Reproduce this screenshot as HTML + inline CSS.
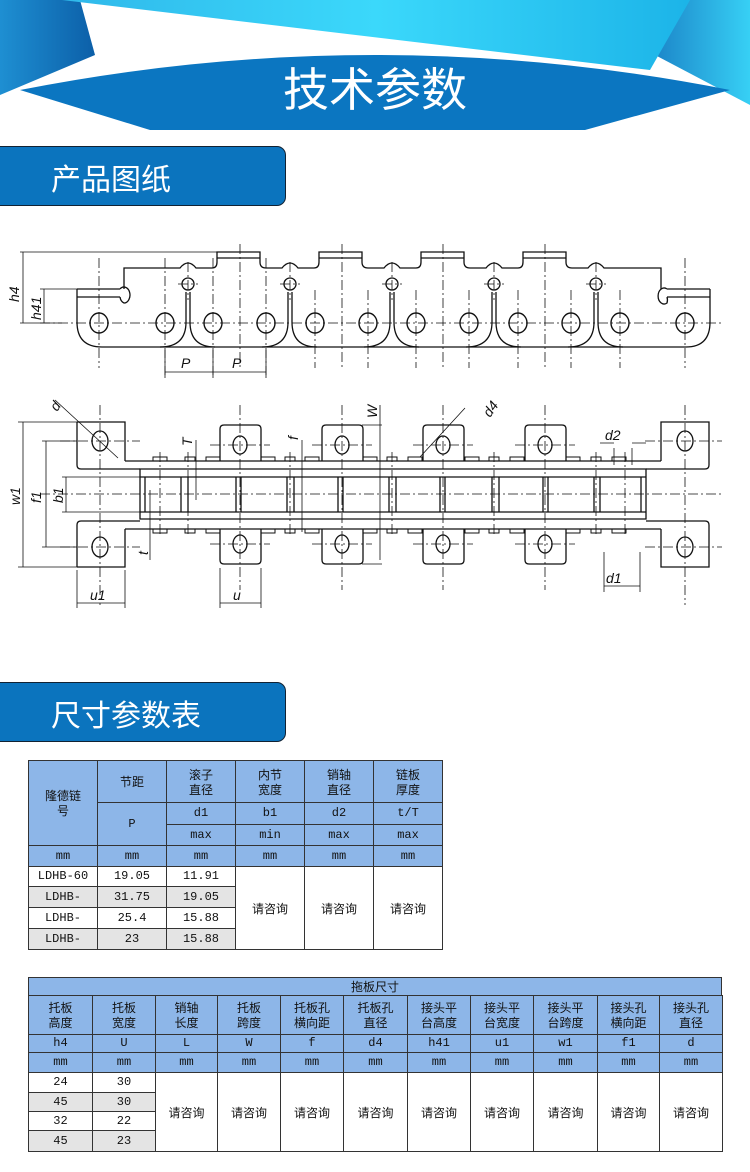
<!DOCTYPE html>
<html><head><meta charset="utf-8">
<style>
body{margin:0;width:750px;height:1172px;background:#fff;position:relative;overflow:hidden;font-family:"Liberation Sans","Noto Sans CJK SC",sans-serif}
.sec{position:absolute;left:-2px;width:288px;height:60px;background:#0b74be;border:1.5px solid #123;border-radius:0 9px 9px 0;color:#fff;font-size:30px;line-height:60px;box-sizing:border-box;padding-left:52px;font-family:"Noto Sans CJK SC",sans-serif}
.c{position:absolute;box-sizing:border-box;border:1px solid #333;display:flex;align-items:center;justify-content:center;text-align:center;font-size:12px;line-height:15px;color:#111;font-family:"Liberation Mono","Noto Sans CJK SC",monospace}
.h{background:#8db6e8}
.g{background:#e4e4e4}
</style></head><body>
<svg width="750" height="140" style="position:absolute;left:0;top:0">
<defs>
<linearGradient id="lc" x1="0" x2="1"><stop offset="0" stop-color="#2fb8ea"/><stop offset=".5" stop-color="#3bd8fb"/><stop offset="1" stop-color="#1cb4e8"/></linearGradient>
<linearGradient id="sl" x1="0" x2="1"><stop offset="0" stop-color="#1e8fd2"/><stop offset="1" stop-color="#0c5fa8"/></linearGradient>
<linearGradient id="sr" x1="0" x2="1"><stop offset="0" stop-color="#1c86c9"/><stop offset="1" stop-color="#37d0f5"/></linearGradient>
</defs>
<polygon points="0,0 80,0 95,55 0,95" fill="url(#sl)"/>
<polygon points="670,0 750,0 750,105 655,55" fill="url(#sr)"/>
<path d="M20,90 Q375,20 730,90 L585,130 L150,130 Z" fill="#0b76c1"/>
<polygon points="62,0 690,0 650,70 Q375,38 108,95 Z" fill="url(#lc)"/>
<text x="375" y="106" text-anchor="middle" fill="#fff" font-size="46" font-family="Noto Sans CJK SC,sans-serif">技术参数</text>
</svg>
<div class="sec" style="top:146px">产品图纸</div>
<div class="sec" style="top:682px">尺寸参数表</div>

<svg width="750" height="640" style="position:absolute;left:0;top:0" fill="none" stroke="#111" stroke-width="1.3" font-family="Liberation Sans,sans-serif" font-style="italic">
<path d="M77,289 L120,289 M77,297 L120,297 M120,289 A6,8 0 1 1 124,303 A6,8 0 0 1 120,297 M124,289 L124,268 L180,268 Q188,258 196,268 L212,268 Q217,268 217,262 L217,252 L260,252 L260,262 Q260,268 266,268 L282,268 Q290,258 298,268 L314,268 Q319,268 319,262 L319,252 L362,252 L362,262 Q362,268 368,268 L384,268 Q392,258 400,268 L416,268 Q421,268 421,262 L421,252 L464,252 L464,262 Q464,268 470,268 L486,268 Q494,258 502,268 L518,268 Q523,268 523,262 L523,252 L566,252 L566,262 Q566,268 572,268 L588,268 Q596,258 604,268 L661,268 L661,289"/>
<path d="M217,258 L260,258 M319,258 L362,258 M421,258 L464,258 M523,258 L566,258"/>
<path d="M667,289 L710,289 M667,297 L710,297 M667,289 A6,8 0 1 0 667,303 A6,8 0 0 0 667,297"/>
<path d="M77,289 L77,322 Q77,347 102,347 L686,347 Q710,347 710,322 L710,289"/>
<g id="lk">
<path d="M186,292 L186,322 Q186,347 160,347 M190,292 L190,322 Q190,347 215,347"/>
<circle cx="188" cy="284" r="6"/>
</g>
<use href="#lk" x="102"/><use href="#lk" x="204"/><use href="#lk" x="306"/><use href="#lk" x="408"/>
<g stroke-width="1.4">
<ellipse cx="99" cy="323" rx="9" ry="10"/><ellipse cx="165" cy="323" rx="9" ry="10"/><ellipse cx="213" cy="323" rx="9" ry="10"/><ellipse cx="266" cy="323" rx="9" ry="10"/><ellipse cx="315" cy="323" rx="9" ry="10"/><ellipse cx="368" cy="323" rx="9" ry="10"/><ellipse cx="416" cy="323" rx="9" ry="10"/><ellipse cx="469" cy="323" rx="9" ry="10"/><ellipse cx="518" cy="323" rx="9" ry="10"/><ellipse cx="571" cy="323" rx="9" ry="10"/><ellipse cx="620" cy="323" rx="9" ry="10"/><ellipse cx="685" cy="323" rx="9" ry="10"/>
</g>
<g stroke-width=".8" stroke-dasharray="10,3,2,3">
<path d="M40,323 L722,323"/>
<path d="M99,258 V368 M165,258 V375 M213,258 V375 M266,258 V375 M315,290 V368 M368,290 V368 M416,290 V368 M469,290 V368 M518,290 V368 M571,290 V368 M620,290 V368 M685,258 V368"/>
<path d="M240,244 V370 M342,244 V370 M443,244 V370 M545,244 V370 M188,262 V300 M290,262 V300 M392,262 V300 M494,262 V300 M596,262 V300"/>
<path d="M178,284 H198 M280,284 H300 M382,284 H402 M484,284 H504 M586,284 H606"/>
</g>
<g stroke-width=".8">
<path d="M20,252 H217 M40,289 H77 M20,323 H62 M23,252 V323 M44,289 V323 M165,350 V378 M213,350 V378 M266,350 V378 M165,372 H266"/>
</g>
<g fill="#111" stroke="none" font-size="14">
<text transform="translate(19,302) rotate(-90)">h4</text>
<text transform="translate(41,320) rotate(-90)">h41</text>
<text x="181" y="368">P</text><text x="232" y="368">P</text>
</g>

<path d="M77,422 H125 V461 M77,422 V465 Q77,469 81,469 H140 M125,461 H661 M661,461 V422 H709 V465 Q709,469 705,469 H646"/>
<path d="M77,567 H125 V529 M77,567 V525 Q77,521 81,521 H140 M125,529 H661 M661,529 V567 H709 V525 Q709,521 705,521 H646"/>
<path d="M140,469 V519 H646 V469 Z M140,477 H646 M140,512 H646"/>
<path d="M145,477 V512 M181,477 V512 M188,477 V512 M236,477 V512 M241,477 V512 M287,477 V512 M294,477 V512 M338,477 V512 M343,477 V512 M389,477 V512 M396,477 V512 M440,477 V512 M445,477 V512 M492,477 V512 M499,477 V512 M543,477 V512 M548,477 V512 M594,477 V512 M600,477 V512 M641,477 V512"/>
<g id="tb"><path d="M220,461 V429 Q220,425 224,425 H257 Q261,425 261,429 V461"/><path d="M220,529 V560 Q220,564 224,564 H257 Q261,564 261,560 V529"/>
<ellipse cx="240" cy="445" rx="7" ry="9"/><ellipse cx="240" cy="544" rx="7" ry="9"/></g>
<use href="#tb" x="102"/><use href="#tb" x="203"/><use href="#tb" x="305"/>
<ellipse cx="100" cy="441" rx="8" ry="10"/><ellipse cx="100" cy="547" rx="8" ry="10"/><ellipse cx="685" cy="441" rx="8" ry="10"/><ellipse cx="685" cy="547" rx="8" ry="10"/>
<g stroke-width="1">
<path d="M153,461 h14 v-4 h-14 z M185,461 h10 v-4 h-10 z M206,461 h14 v-4 h-14 z M261,461 h14 v-4 h-14 z M285,461 h10 v-4 h-10 z M305,461 h14 v-4 h-14 z M363,461 h14 v-4 h-14 z M387,461 h10 v-4 h-10 z M408,461 h14 v-4 h-14 z M465,461 h14 v-4 h-14 z M489,461 h10 v-4 h-10 z M510,461 h14 v-4 h-14 z M566,461 h14 v-4 h-14 z M591,461 h10 v-4 h-10 z M612,461 h14 v-4 h-14 z"/>
<path d="M153,529 h14 v4 h-14 z M185,529 h10 v4 h-10 z M206,529 h14 v4 h-14 z M261,529 h14 v4 h-14 z M285,529 h10 v4 h-10 z M305,529 h14 v4 h-14 z M363,529 h14 v4 h-14 z M387,529 h10 v4 h-10 z M408,529 h14 v4 h-14 z M465,529 h14 v4 h-14 z M489,529 h10 v4 h-10 z M510,529 h14 v4 h-14 z M566,529 h14 v4 h-14 z M591,529 h10 v4 h-10 z M612,529 h14 v4 h-14 z"/>
</g>
<g stroke-width=".8" stroke-dasharray="10,3,2,3">
<path d="M40,494 H722"/>
<path d="M100,405 V605 M240,405 V590 M342,405 V590 M443,405 V590 M545,405 V590 M685,405 V605"/>
<path d="M60,441 H140 M60,547 H140 M645,441 H722 M645,547 H722 M210,445 H270 M312,445 H372 M413,445 H473 M515,445 H575 M210,544 H270 M312,544 H372 M413,544 H473 M515,544 H575"/>
<path d="M160,452 V535 M188,452 V535 M290,452 V535 M392,452 V535 M494,452 V535 M596,452 V535 M625,452 V535"/>
</g>
<g stroke-width=".8">
<path d="M18,422 H77 M18,567 H77 M23,422 V567 M42,441 H77 M42,547 H77 M46,441 V547 M62,477 H140 M62,512 H140 M66,477 V512"/>
<path d="M77,570 V608 M125,570 V608 M77,603 H125 M220,568 V608 M261,568 V608 M220,603 H261 M604,552 V592 M640,552 V592 M604,586 H640"/>
<path d="M614,448 V465 M632,448 V465 M600,443 H614 M632,443 H646"/>
<path d="M55,400 L118,458 M465,408 L420,457 M380,405 V560 M362,425 H382 M362,564 H382 M302,440 V532 M196,440 V500 M150,490 V560"/>
</g>
<g fill="#111" stroke="none" font-size="14">
<text transform="translate(20,505) rotate(-90)">w1</text>
<text transform="translate(41,503) rotate(-90)">f1</text>
<text transform="translate(63,503) rotate(-90)">b1</text>
<text x="90" y="600">u1</text><text x="233" y="600">u</text><text x="606" y="583">d1</text><text x="605" y="440">d2</text>
<text transform="translate(490,418) rotate(-55)">d4</text>
<text transform="translate(57,412) rotate(-55)">d</text>
<text transform="translate(377,418) rotate(-90)">W</text>
<text transform="translate(192,446) rotate(-90)">T</text>
<text transform="translate(298,440) rotate(-90)">f</text>
<text transform="translate(148,555) rotate(-90)">t</text>
</g>
</svg>

<div class="c h" style="left:28px;top:760px;width:70px;height:86px;font-family:'Noto Sans CJK SC',sans-serif">隆德链<br>号</div>
<div class="c h" style="left:97px;top:760px;width:70px;height:43px;font-family:'Noto Sans CJK SC',sans-serif">节距</div>
<div class="c h" style="left:166px;top:760px;width:70px;height:43px;font-family:'Noto Sans CJK SC',sans-serif">滚子<br>直径</div>
<div class="c h" style="left:235px;top:760px;width:70px;height:43px;font-family:'Noto Sans CJK SC',sans-serif">内节<br>宽度</div>
<div class="c h" style="left:304px;top:760px;width:70px;height:43px;font-family:'Noto Sans CJK SC',sans-serif">销轴<br>直径</div>
<div class="c h" style="left:373px;top:760px;width:70px;height:43px;font-family:'Noto Sans CJK SC',sans-serif">链板<br>厚度</div>
<div class="c h" style="left:97px;top:802px;width:70px;height:44px">P</div>
<div class="c h" style="left:166px;top:802px;width:70px;height:23px">d1</div>
<div class="c h" style="left:235px;top:802px;width:70px;height:23px">b1</div>
<div class="c h" style="left:304px;top:802px;width:70px;height:23px">d2</div>
<div class="c h" style="left:373px;top:802px;width:70px;height:23px">t/T</div>
<div class="c h" style="left:166px;top:824px;width:70px;height:22px">max</div>
<div class="c h" style="left:235px;top:824px;width:70px;height:22px">min</div>
<div class="c h" style="left:304px;top:824px;width:70px;height:22px">max</div>
<div class="c h" style="left:373px;top:824px;width:70px;height:22px">max</div>
<div class="c h" style="left:28px;top:845px;width:70px;height:22px">mm</div>
<div class="c h" style="left:97px;top:845px;width:70px;height:22px">mm</div>
<div class="c h" style="left:166px;top:845px;width:70px;height:22px">mm</div>
<div class="c h" style="left:235px;top:845px;width:70px;height:22px">mm</div>
<div class="c h" style="left:304px;top:845px;width:70px;height:22px">mm</div>
<div class="c h" style="left:373px;top:845px;width:70px;height:22px">mm</div>
<div class="c" style="left:28px;top:866px;width:70px;height:21px">LDHB-60</div>
<div class="c" style="left:97px;top:866px;width:70px;height:21px">19.05</div>
<div class="c" style="left:166px;top:866px;width:70px;height:21px">11.91</div>
<div class="c g" style="left:28px;top:886px;width:70px;height:22px">LDHB-</div>
<div class="c g" style="left:97px;top:886px;width:70px;height:22px">31.75</div>
<div class="c g" style="left:166px;top:886px;width:70px;height:22px">19.05</div>
<div class="c" style="left:28px;top:907px;width:70px;height:22px">LDHB-</div>
<div class="c" style="left:97px;top:907px;width:70px;height:22px">25.4</div>
<div class="c" style="left:166px;top:907px;width:70px;height:22px">15.88</div>
<div class="c g" style="left:28px;top:928px;width:70px;height:22px">LDHB-</div>
<div class="c g" style="left:97px;top:928px;width:70px;height:22px">23</div>
<div class="c g" style="left:166px;top:928px;width:70px;height:22px">15.88</div>
<div class="c" style="left:235px;top:866px;width:70px;height:84px;font-family:'Noto Sans CJK SC',sans-serif">请咨询</div>
<div class="c" style="left:304px;top:866px;width:70px;height:84px;font-family:'Noto Sans CJK SC',sans-serif">请咨询</div>
<div class="c" style="left:373px;top:866px;width:70px;height:84px;font-family:'Noto Sans CJK SC',sans-serif">请咨询</div>

<div class="c h" style="left:28px;top:977px;width:694px;height:19px;font-family:'Noto Sans CJK SC',sans-serif">拖板尺寸</div>
<div id="t2"></div>
<script>
var xs=[28,92,155,217,280,343,407,470,533,597,659,722];
var hd=["托板<br>高度","托板<br>宽度","销轴<br>长度","托板<br>跨度","托板孔<br>横向距","托板孔<br>直径","接头平<br>台高度","接头平<br>台宽度","接头平<br>台跨度","接头孔<br>横向距","接头孔<br>直径"];
var sy=["h4","U","L","W","f","d4","h41","u1","w1","f1","d"];
var d=[["24","30"],["45","30"],["32","22"],["45","23"]],ry=[1072,1092,1111,1130,1151];
var h="";
function cell(x,y,w,hh,cls,t,cjk){return '<div class="c '+cls+'" style="left:'+x+'px;top:'+y+'px;width:'+w+'px;height:'+hh+'px;'+(cjk?"font-family:\'Noto Sans CJK SC\',sans-serif":"")+'">'+t+'</div>';}
for(var i=0;i<11;i++){var x=xs[i],w=xs[i+1]-xs[i]+1;
h+=cell(x,995,w,40,"h",hd[i],1);h+=cell(x,1034,w,19,"h",sy[i],0);h+=cell(x,1052,w,21,"h","mm",0);
if(i<2){for(var r=0;r<4;r++)h+=cell(x,ry[r],w,ry[r+1]-ry[r]+1,r%2?"g":"",d[r][i],0);}
else h+=cell(x,1072,w,80,"","请咨询",1);}
document.getElementById("t2").innerHTML=h;
</script>
</body></html>
